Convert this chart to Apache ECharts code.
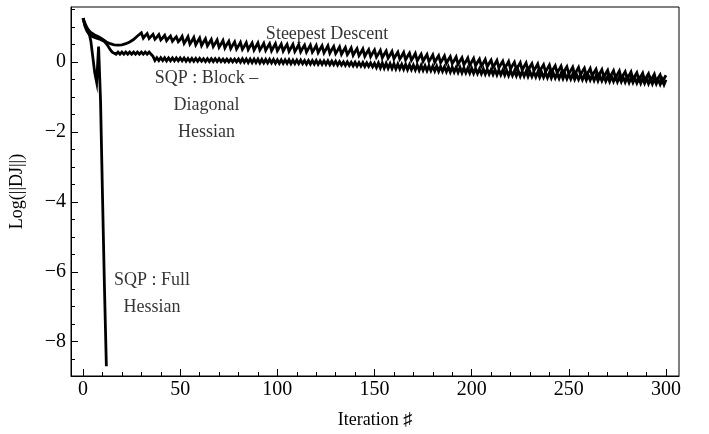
<!DOCTYPE html>
<html>
<head>
<meta charset="utf-8">
<script src="https://cdn.jsdelivr.net/npm/echarts@6/dist/echarts.min.js"></script>
<style>html,body{margin:0;padding:0;background:#fff}#c{width:709px;height:434px}</style>
</head>
<body>
<div id="c"></div>
<script>
// Steepest descent, iterations 0..300
const steepestDescent = [
1.25,1.10,0.98,0.90,0.84,0.80,0.77,0.74,0.72,0.69,
0.65,0.61,0.57,0.54,0.52,0.50,0.49,0.48,0.48,0.48,
0.49,0.50,0.52,0.54,0.57,0.60,0.64,0.69,0.74,0.79,
0.83,0.68,0.75,0.81,0.67,0.73,0.79,0.65,0.71,0.78,
0.63,0.69,0.76,0.61,0.68,0.74,0.59,0.66,0.72,0.58,
0.64,0.73,0.53,0.62,0.72,0.51,0.60,0.70,0.49,0.59,
0.68,0.47,0.57,0.66,0.46,0.55,0.64,0.44,0.53,0.63,
0.42,0.51,0.61,0.40,0.50,0.59,0.38,0.48,0.57,0.37,
0.46,0.56,0.36,0.45,0.55,0.35,0.45,0.54,0.34,0.44,
0.54,0.34,0.43,0.53,0.33,0.43,0.52,0.32,0.42,0.52,
0.32,0.41,0.51,0.31,0.41,0.50,0.30,0.40,0.50,0.30,
0.39,0.49,0.29,0.39,0.48,0.28,0.38,0.48,0.28,0.37,
0.47,0.27,0.37,0.46,0.26,0.36,0.46,0.25,0.35,0.44,
0.24,0.33,0.43,0.22,0.32,0.41,0.21,0.30,0.40,0.19,
0.29,0.38,0.18,0.27,0.37,0.16,0.26,0.35,0.15,0.25,
0.34,0.14,0.23,0.33,0.12,0.22,0.31,0.11,0.20,0.30,
0.09,0.19,0.28,0.08,0.17,0.27,0.06,0.16,0.25,0.05,
0.14,0.24,0.03,0.13,0.22,0.02,0.12,0.21,0.01,0.10,
0.20,-0.01,0.09,0.18,-0.02,0.07,0.17,-0.04,0.06,0.15,
-0.05,0.04,0.14,-0.07,0.03,0.12,-0.08,0.01,0.11,-0.10,
0.00,0.10,-0.11,-0.01,0.08,-0.12,-0.03,0.07,-0.14,-0.04,
0.05,-0.15,-0.06,0.04,-0.17,-0.07,0.02,-0.18,-0.09,0.01,
-0.20,-0.10,-0.01,-0.21,-0.12,-0.02,-0.23,-0.13,-0.03,-0.24,
-0.14,-0.05,-0.25,-0.16,-0.06,-0.27,-0.17,-0.08,-0.28,-0.19,
-0.09,-0.30,-0.20,-0.11,-0.31,-0.22,-0.12,-0.33,-0.23,-0.14,
-0.34,-0.25,-0.15,-0.35,-0.26,-0.16,-0.37,-0.27,-0.18,-0.38,
-0.29,-0.19,-0.40,-0.30,-0.21,-0.41,-0.32,-0.22,-0.43,-0.33,
-0.24,-0.44,-0.35,-0.25,-0.46,-0.36,-0.26,-0.47,-0.37,-0.28,
-0.48,-0.39,-0.29,-0.50,-0.40,-0.31,-0.51,-0.42,-0.32,-0.53,
-0.43,-0.34,-0.54,-0.45,-0.35,-0.56,-0.46,-0.37,-0.57,-0.48,
-0.38
];
// SQP block-diagonal Hessian, iterations 0..300
const sqpBlockDiagonal = [
1.25,1.02,0.88,0.80,0.75,0.72,0.70,0.68,0.66,0.64,
0.62,0.58,0.52,0.44,0.35,0.28,0.28,0.22,0.28,0.22,
0.28,0.22,0.28,0.22,0.28,0.22,0.28,0.22,0.28,0.22,
0.28,0.22,0.28,0.22,0.28,0.22,0.16,0.04,0.12,0.04,
0.12,0.04,0.12,0.03,0.11,0.03,0.11,0.03,0.11,0.03,
0.11,0.03,0.11,0.02,0.10,0.02,0.10,0.02,0.10,0.02,
0.10,0.02,0.09,0.01,0.09,0.01,0.09,0.01,0.09,0.01,
0.09,0.01,0.08,0.00,0.08,0.00,0.08,0.00,0.08,0.00,
0.08,-0.01,0.09,-0.01,0.08,-0.02,0.08,-0.02,0.08,-0.02,
0.08,-0.03,0.07,-0.03,0.07,-0.03,0.07,-0.03,0.07,-0.04,
0.06,-0.04,0.06,-0.04,0.06,-0.04,0.06,-0.05,0.05,-0.05,
0.05,-0.05,0.05,-0.05,0.04,-0.06,0.04,-0.06,0.04,-0.06,
0.04,-0.07,0.03,-0.07,0.03,-0.07,0.03,-0.08,0.02,-0.08,
0.02,-0.09,0.01,-0.09,0.00,-0.10,0.00,-0.10,-0.01,-0.11,
-0.01,-0.12,-0.02,-0.12,-0.02,-0.13,-0.03,-0.13,-0.03,-0.14,
-0.04,-0.16,-0.03,-0.17,-0.03,-0.18,-0.04,-0.18,-0.05,-0.19,
-0.05,-0.20,-0.06,-0.20,-0.07,-0.21,-0.07,-0.22,-0.08,-0.22,
-0.09,-0.23,-0.09,-0.24,-0.10,-0.24,-0.11,-0.25,-0.11,-0.25,
-0.12,-0.26,-0.12,-0.27,-0.13,-0.27,-0.14,-0.28,-0.14,-0.29,
-0.15,-0.29,-0.16,-0.30,-0.16,-0.31,-0.17,-0.31,-0.18,-0.32,
-0.18,-0.33,-0.19,-0.33,-0.20,-0.34,-0.20,-0.35,-0.21,-0.35,
-0.22,-0.36,-0.22,-0.37,-0.23,-0.37,-0.24,-0.38,-0.24,-0.39,
-0.25,-0.39,-0.26,-0.40,-0.26,-0.41,-0.27,-0.41,-0.27,-0.42,
-0.28,-0.42,-0.29,-0.43,-0.29,-0.44,-0.30,-0.44,-0.31,-0.45,
-0.31,-0.46,-0.32,-0.46,-0.33,-0.47,-0.33,-0.48,-0.34,-0.48,
-0.35,-0.49,-0.35,-0.50,-0.36,-0.50,-0.37,-0.51,-0.37,-0.52,
-0.38,-0.52,-0.39,-0.53,-0.39,-0.54,-0.40,-0.54,-0.41,-0.55,
-0.41,-0.56,-0.42,-0.56,-0.42,-0.57,-0.43,-0.57,-0.44,-0.58,
-0.44,-0.59,-0.45,-0.59,-0.46,-0.60,-0.46,-0.61,-0.47,-0.61,
-0.48,-0.62,-0.48,-0.63,-0.49,-0.63,-0.50,-0.64,-0.50,-0.65,
-0.51
];
// SQP full Hessian, iterations 0..12
const sqpFullHessian = [1.25,1.05,0.95,0.85,0.60,0.15,-0.30,-0.58,0.44,-1.10,-3.80,-6.40,-8.70];

const xMajorTicks = [0,50,100,150,200,250,300];
const xMinorTicks = [10,20,30,40,60,70,80,90,110,120,130,140,160,170,180,190,210,220,230,240,260,270,280,290];
const yMajorTicks = [-8,-6,-4,-2,0];
const yMinorTicks = [-8.5,-7.5,-7,-6.5,-5.5,-5,-4.5,-3.5,-3,-2.5,-1.5,-1,-0.5,0.5,1,1.5];

const annotationText = ['Steepest Descent', 'SQP : Block \u2013\nDiagonal\nHessian', 'SQP : Full\nHessian'];
const annotationX = [125.6, 63.5, 35.5];
const annotationY = [0.78, -1.23, -6.62];

const toXY = arr => arr.map((v, i) => [i, v]);
const FONT = '"Liberation Serif", "DejaVu Serif", serif';
const X_MIN = -6.2, X_MAX = 306.7, Y_MIN = -8.98, Y_MAX = 1.57;

const chart = echarts.init(document.getElementById('c'), null, {renderer: 'canvas'});
const lineSeries = (data) => ({
  type: 'line', data: data, showSymbol: false, symbol: 'none', animation: false,
  lineStyle: {color: '#000', width: 2.8, join: 'miter'}, z: 3, silent: true
});
chart.setOption({
  animation: false,
  backgroundColor: '#fff',
  grid: {left: 71, top: 7, right: 30, bottom: 52, show: true, borderColor: '#000', borderWidth: 1, backgroundColor: 'transparent'},
  xAxis: [
    {type: 'value', min: X_MIN, max: X_MAX, position: 'bottom',
     name: 'Iteration \u266F', nameLocation: 'middle', nameGap: 35,
     nameTextStyle: {fontFamily: FONT, fontSize: 18, color: '#000'},
     axisLine: {show: true, onZero: false, lineStyle: {color: '#000', width: 1}},
     axisTick: {show: true, inside: true, length: 7, customValues: xMajorTicks, lineStyle: {color: '#000'}},
     axisLabel: {show: true, customValues: xMajorTicks, fontFamily: FONT, fontSize: 20, color: '#000', margin: 4},
     splitLine: {show: false}},
    {type: 'value', min: X_MIN, max: X_MAX, position: 'bottom',
     axisLine: {show: false, onZero: false},
     axisTick: {show: true, inside: true, length: 4, customValues: xMinorTicks, lineStyle: {color: '#000'}},
     axisLabel: {show: false}, splitLine: {show: false}}
  ],
  yAxis: [
    {type: 'value', min: Y_MIN, max: Y_MAX, position: 'left',
     name: 'Log(||DJ||)', nameLocation: 'middle', nameGap: 45, nameRotate: 90,
     nameTextStyle: {fontFamily: FONT, fontSize: 18, color: '#000'},
     axisLine: {show: true, onZero: false, lineStyle: {color: '#000', width: 1}},
     axisTick: {show: true, inside: true, length: 7, customValues: yMajorTicks, lineStyle: {color: '#000'}},
     axisLabel: {show: true, customValues: yMajorTicks, fontFamily: FONT, fontSize: 20, color: '#000', margin: 5,
                 formatter: v => (v < 0 ? '\u2212' + Math.abs(v) : String(v))},
     splitLine: {show: false}},
    {type: 'value', min: Y_MIN, max: Y_MAX, position: 'left',
     axisLine: {show: false, onZero: false},
     axisTick: {show: true, inside: true, length: 4, customValues: yMinorTicks, lineStyle: {color: '#000'}},
     axisLabel: {show: false}, splitLine: {show: false}}
  ],
  series: [
    lineSeries(toXY(steepestDescent)),
    lineSeries(toXY(sqpBlockDiagonal)),
    lineSeries(toXY(sqpFullHessian)),
    {type: 'scatter', symbolSize: 0, silent: true, z: 5,
     data: annotationText.map((t, i) => ({value: [annotationX[i], annotationY[i]], name: t})),
     label: {show: true, position: 'inside', formatter: p => p.name,
             fontFamily: FONT, fontSize: 18, color: '#000', lineHeight: 27, align: 'center', verticalAlign: 'middle'}}
  ]
});
</script>
</body>
</html>
